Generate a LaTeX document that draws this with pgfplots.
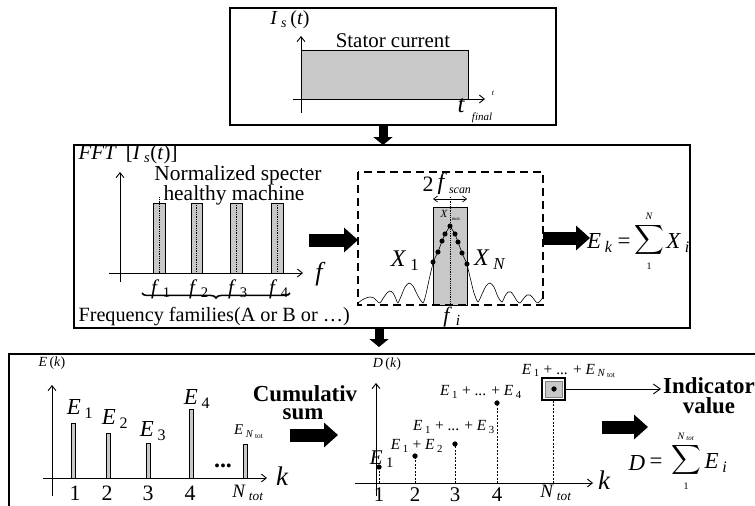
\documentclass[border=0pt]{standalone}
\usepackage{fontspec}
\setmainfont{Liberation Serif}
\usepackage{amsmath}
\usepackage{pgfplots}
\pgfplotsset{compat=1.18}
\usetikzlibrary{decorations.pathreplacing,arrows.meta}
\definecolor{fg}{RGB}{200,200,200}
\newcommand{\fs}[1]{\fontsize{#1}{#1}\selectfont}
\newcommand{\sub}[1]{\textsubscript{#1}}
\begin{document}
\begin{tikzpicture}
\begin{axis}[scale only axis, width=755bp, height=506bp,
  xmin=0, xmax=755, ymin=0, ymax=506, y dir=reverse,
  axis lines=none, clip=false,
  every axis plot/.append style={line width=0.8pt}]
%================ TOP =================
\draw[line width=1.5pt] (230,8) rectangle (556,125);
\addplot[fill=fg, draw=black, line width=1pt] coordinates {(301,99) (301,50) (468,50) (468,99) (301,99)};
\draw[line width=0.9pt, -{Straight Barb[length=5pt,width=8pt]}] (301,113) -- (301,36);
\draw[line width=0.9pt, -{Straight Barb[length=5pt,width=8pt]}] (293,99) -- (485,99);
\node[font=\fs{21}] at (393,41) {Stator current};
\node[font=\fs{20}] at (290,20) {\textit{I}\,\sub{\textit{s}}\,(\textit{t})};
\node[font=\fs{8}\itshape] at (493,93) {t};
\node[font=\fs{25}\itshape] at (461,106) {t};
\node[font=\fs{11}\itshape] at (482,118) {final};
\draw[line width=9bp, -{Triangle[width=19bp,length=8bp]}] (383,125) -- (383,145);
%================ MIDDLE =================
\draw[line width=1.5pt] (74,145) rectangle (690,328);
\node[anchor=west, font=\fs{21}] at (75,154) {\textit{FFT}\hspace{9bp}[\textit{I}\,\sub{\textit{s}}(\textit{t})]};
\addplot[fill=fg, draw=black, line width=0.6pt] coordinates {(153,273) (153,203) (165,203) (165,273) (153,273)};
\addplot[fill=fg, draw=black, line width=0.6pt] coordinates {(191,273) (191,203) (202,203) (202,273) (191,273)};
\addplot[fill=fg, draw=black, line width=0.6pt] coordinates {(230,273) (230,203) (242,203) (242,273) (230,273)};
\addplot[fill=fg, draw=black, line width=0.6pt] coordinates {(271,273) (271,203) (283,203) (283,273) (271,273)};
\addplot[densely dotted, line width=0.6pt] coordinates {(159,197) (159,273)};
\addplot[densely dotted, line width=0.6pt] coordinates {(196.5,203) (196.5,273)};
\addplot[densely dotted, line width=0.6pt] coordinates {(236,203) (236,273)};
\addplot[densely dotted, line width=0.6pt] coordinates {(277,203) (277,273)};
\node[font=\fs{21.5}] at (238,175) {Normalized specter};
\node[font=\fs{21.5}] at (234,195) {healthy machine};
\draw[line width=0.9pt, -{Straight Barb[length=5pt,width=8pt]}] (120,282) -- (120,172);
\draw[line width=0.9pt, -{Straight Barb[length=5pt,width=8pt]}] (109,273) -- (303,273);
\node[font=\fs{26}\itshape] at (319,274) {f};
\node[font=\fs{21}] at (161,289) {\textit{f}\,\sub{1}};
\node[font=\fs{21}] at (199,289) {\textit{f}\,\sub{2}};
\node[font=\fs{21}] at (238,289) {\textit{f}\,\sub{3}};
\node[font=\fs{21}] at (279,289) {\textit{f}\,\sub{4}};
\draw[decorate, decoration={brace, amplitude=5pt, mirror}, line width=1.5pt] (142,293) -- (290,293);
\node[anchor=west, font=\fs{20.3}] at (75,317) {Frequency families(A or B or \dots)};
\draw[line width=13bp, -{Triangle[width=24bp,length=14bp]}] (309,240) -- (358,240);
% zoom box
\addplot[fill=fg, draw=black, line width=0.8pt] coordinates {(433,305) (433,207) (467,207) (467,305) (433,305)};
\addplot[densely dotted, line width=0.6pt] coordinates {(450,197) (450,305)};
\draw[line width=1.3pt, dash pattern=on 8pt off 5pt] (358,172) rectangle (543,305);
\draw[line width=0.7pt, {Straight Barb[length=4pt,width=6pt]}-{Straight Barb[length=4pt,width=6pt]}] (433,199) -- (467,199);
\node[font=\fs{22}] at (428,184) {2};
\node[font=\fs{24}\itshape] at (441,184) {f};
\node[font=\fs{12}\itshape] at (460,191) {scan};
\node[font=\fs{11}\itshape] at (444,214) {X};
\node[font=\fs{5}\itshape] at (456,219) {max};
\addplot[smooth, tension=0.4, line width=0.6pt] coordinates {
 (358,303) (362,300) (366,298) (370,297) (374,298) (377,301) (380,303)
 (384,297) (387,293) (390,291) (393,293) (396,299) (398,303)
 (402,294) (405,287) (409,283) (413,286) (418,296) (423,303)
 (426,294) (429,280) (433,263)};
\addplot[smooth, tension=0.4, line width=0.6pt] coordinates {
 (467,264) (470,277) (474,293) (478,302)
 (482,294) (486,286) (490,283) (494,287) (498,297) (502,302)
 (505,296) (508,292) (511,292) (514,296) (517,301) (520,303)
 (524,298) (527,295) (530,295) (533,298) (536,302) (538,303)
 (541,300) (543,297)};
\addplot[mark=*, mark size=2.2pt, line width=0.6pt] coordinates {
 (433,262) (438,252) (442,241) (445,234) (450,226) (455,234) (458,242) (462,253) (467,264)};
\node[font=\fs{24}] at (405,261) {\textit{X}\,\sub{1}};
\node[font=\fs{24}] at (490,260) {\textit{X}\,\sub{\textit{N}}};
\node[font=\fs{22}] at (452,317) {\textit{f}\,\sub{\textit{i}}};
\draw[line width=13bp, -{Triangle[width=24bp,length=14bp]}] (543,238) -- (590,238);
\node[font=\fs{23}] at (600,243) {\textit{E}\,\sub{\textit{k}}};
\node[font=\fs{23}] at (624,243) {=};
\node[font=\fs{20}, inner sep=0pt] at (649,241) {$\displaystyle\sum_{\textrm{\fs{10}1}}^{\textit{\fs{10}N}}$};
\node[font=\fs{23}] at (678,243) {\textit{X}\,\sub{\textit{i}}};
\draw[line width=9bp, -{Triangle[width=19bp,length=8bp]}] (379,328) -- (379,347);
%================ BOTTOM =================
\draw[line width=1.8pt] (9,506) -- (9,354) -- (755,354);
% left: E(k)
\node[font=\fs{14}] at (52,363) {\textit{E}\,(\textit{k})};
\addplot[fill=fg, draw=black, line width=0.6pt] coordinates {(71,478) (71,423) (75,423) (75,478) (71,478)};
\addplot[fill=fg, draw=black, line width=0.6pt] coordinates {(106,478) (106,433) (110,433) (110,478) (106,478)};
\addplot[fill=fg, draw=black, line width=0.6pt] coordinates {(146,478) (146,443) (150,443) (150,478) (146,478)};
\addplot[fill=fg, draw=black, line width=0.6pt] coordinates {(189,478) (189,409) (193,409) (193,478) (189,478)};
\addplot[fill=fg, draw=black, line width=0.6pt] coordinates {(243,478) (243,444) (247,444) (247,478) (243,478)};
\draw[line width=0.9pt, -{Straight Barb[length=5pt,width=8pt]}] (52,496) -- (52,385);
\draw[line width=0.9pt, -{Straight Barb[length=5pt,width=8pt]}] (43,478) -- (267,478);
\node[font=\fs{23}] at (80,409) {\textit{E}\,\sub{1}};
\node[font=\fs{23}] at (115,419) {\textit{E}\,\sub{2}};
\node[font=\fs{23}] at (153,431) {\textit{E}\,\sub{3}};
\node[font=\fs{23}] at (197,399) {\textit{E}\,\sub{4}};
\node[font=\fs{15}] at (249,432) {\textit{E}\,\sub{\textit{N}\,\sub{tot}}};
\node[font=\bfseries\fs{24}] at (223,466) {...};
\node[font=\fs{22}] at (75,493) {1};
\node[font=\fs{22}] at (107,493) {2};
\node[font=\fs{22}] at (148,493) {3};
\node[font=\fs{22}] at (190,493) {4};
\node[font=\fs{19}] at (248,493) {\textit{N}\,\sub{\textit{tot}}};
\node[font=\fs{27}\itshape] at (282,476) {k};
\node[font=\bfseries\fs{23}] at (305,394) {Cumulativ};
\node[font=\bfseries\fs{23}] at (303,414) {sum};
\draw[line width=13bp, -{Triangle[width=24bp,length=14bp]}] (290,435) -- (338,435);
% right: D(k)
\node[font=\fs{14}] at (387,364) {\textit{D}\,(\textit{k})};
\draw[line width=0.9pt, -{Straight Barb[length=5pt,width=8pt]}] (376,496) -- (376,383);
\draw[line width=0.9pt, -{Straight Barb[length=5pt,width=8pt]}] (355,483) -- (593,483);
\draw[line width=1.8pt] (542,378) rectangle (565,400);
\draw[fill=fg, draw=gray, line width=0.6pt] (545,381) rectangle (562,397);
\draw[line width=0.9pt, -{Straight Barb[length=7pt,width=10pt]}] (565,389) -- (661,389);
\addplot[dash pattern=on 2pt off 1.5pt, line width=0.6pt] coordinates {(379,483) (379,467)};
\addplot[dash pattern=on 2pt off 1.5pt, line width=0.6pt] coordinates {(415,483) (415,456)};
\addplot[dash pattern=on 2pt off 1.5pt, line width=0.6pt] coordinates {(455,483) (455,444)};
\addplot[dash pattern=on 2pt off 1.5pt, line width=0.6pt] coordinates {(497,483) (497,403)};
\addplot[dash pattern=on 2pt off 1.5pt, line width=0.6pt] coordinates {(553,483) (553,400)};
\addplot[only marks, mark=*, mark size=2.2pt] coordinates {(379,467) (415,456) (455,444) (497,403) (554,389)};
\node[font=\fs{21}] at (382,459) {\textit{E}\,\sub{1}};
\node[font=\fs{15.5}] at (417,446) {\textit{E}\,\sub{1} + \textit{E}\,\sub{2}};
\node[font=\fs{15.5}] at (454,427) {\textit{E}\,\sub{1} + ... + \textit{E}\,\sub{3}};
\node[font=\fs{15.5}] at (481,392) {\textit{E}\,\sub{1} + ... + \textit{E}\,\sub{4}};
\node[font=\fs{15.5}] at (569,371) {\textit{E}\,\sub{1} + ... + \textit{E}\,\sub{\textit{N}\,\sub{tot}}};
\node[font=\fs{21}] at (379,495) {1};
\node[font=\fs{21}] at (415,495) {2};
\node[font=\fs{21}] at (455,495) {3};
\node[font=\fs{21}] at (497,495) {4};
\node[font=\fs{19}] at (556,493) {\textit{N}\,\sub{\textit{tot}}};
\node[font=\fs{27}\itshape] at (604,480) {k};
\node[font=\bfseries\fs{23}] at (709,386) {Indicator};
\node[font=\bfseries\fs{23}] at (709,406) {value};
\draw[line width=13bp, -{Triangle[width=24bp,length=14bp]}] (602,427) -- (648,427);
\node[font=\fs{23}] at (637,463) {\textit{D}};
\node[font=\fs{23}] at (656,463) {=};
\node[font=\fs{20}, inner sep=0pt] at (686,461) {$\displaystyle\sum_{\textrm{\fs{10}1}}^{\textrm{\fs{10}\textit{N}\,\sub{\textit{tot}}}}$};
\node[font=\fs{23}] at (716,463) {\textit{E}\,\sub{\textit{i}}};
\end{axis}
\pgfresetboundingbox
\path (current axis.south west) rectangle (current axis.north east);
\end{tikzpicture}
\end{document}
